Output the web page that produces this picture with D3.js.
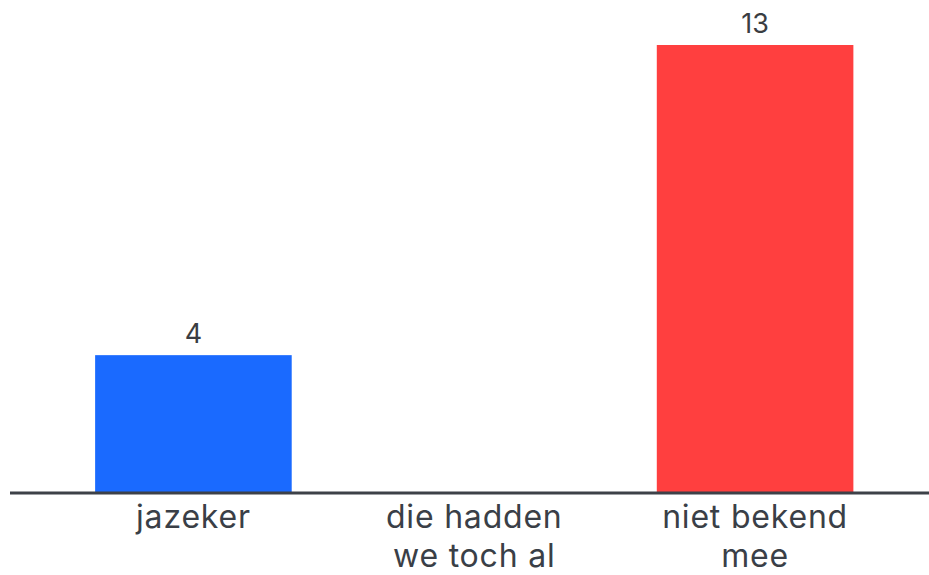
<!DOCTYPE html>
<html>
<head>
<meta charset="utf-8">
<script src="https://cdn.jsdelivr.net/npm/d3@7"></script>
<style>
  html, body { margin: 0; padding: 0; background: #fff; }
  svg { display: block; }
</style>
</head>
<body>
<svg id="chart" width="929" height="575"></svg>
<script>
const categories = [["jazeker"], ["die hadden", "we toch al"], ["niet bekend", "mee"]];
const values = [4, 0, 13];
const colors = ["#1A6AFF", "#7f7f7f", "#FF3F3F"];

const svg = d3.select("#chart");
const W = 929, H = 575;
const baseY = 493;

const x = d3.scaleBand()
  .domain(d3.range(categories.length))
  .range([53, 895.5])
  .paddingInner(0.3)
  .paddingOuter(0.15);

const y = d3.scaleLinear()
  .domain([0, 13])
  .range([baseY, 45]);

svg.selectAll("rect.bar")
  .data(values)
  .join("rect")
  .attr("class", "bar")
  .attr("x", (d, i) => x(i))
  .attr("width", x.bandwidth())
  .attr("y", d => y(d))
  .attr("height", d => baseY - y(d))
  .attr("fill", (d, i) => colors[i]);

svg.selectAll("text.val")
  .data(values.map((v, i) => ({v, i})).filter(d => d.v > 0))
  .join("text")
  .attr("class", "val")
  .attr("x", d => x(d.i) + x.bandwidth() / 2)
  .attr("y", d => y(d.v) - 12)
  .attr("text-anchor", "middle")
  .attr("font-family", "Inter, 'Liberation Sans', sans-serif")
  .attr("font-size", 27)
  .attr("fill", "#3a3d42")
  .text(d => d.v);

svg.append("line")
  .attr("x1", 10).attr("x2", W)
  .attr("y1", baseY).attr("y2", baseY)
  .attr("stroke", "#3d4148")
  .attr("stroke-width", 3);

const lab = svg.selectAll("text.cat")
  .data(categories)
  .join("text")
  .attr("class", "cat")
  .attr("text-anchor", "middle")
  .attr("font-family", "Inter, 'Liberation Sans', sans-serif")
  .attr("font-size", 32)
  .attr("letter-spacing", 0.8)
  .attr("fill", "#3a3f47")
  .attr("transform", (d, i) => `translate(${x(i) + x.bandwidth() / 2},0)`);

lab.selectAll("tspan")
  .data(d => d)
  .join("tspan")
  .attr("x", 0)
  .attr("y", (d, j) => 528 + j * 39)
  .text(d => d);
</script>
</body>
</html>
